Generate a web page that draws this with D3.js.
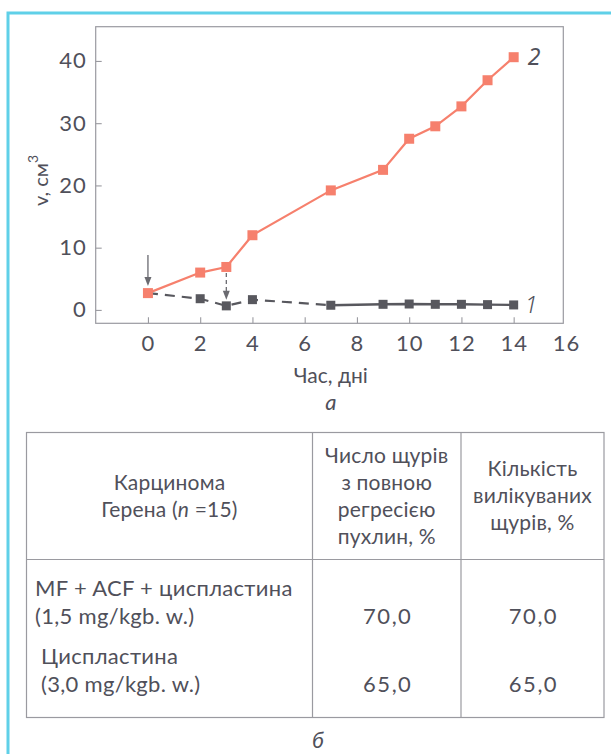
<!DOCTYPE html>
<html>
<head>
<meta charset="utf-8">
<script src="https://cdn.jsdelivr.net/npm/d3@7"></script>
<style>
  html, body { margin: 0; padding: 0; background: #ffffff; }
  svg { display: block; }
  text { font-family: Lato, "Open Sans", sans-serif; fill: #50505a; }
</style>
</head>
<body>
<svg id="fig" width="611" height="754"></svg>
<script>
// Tumour volume over time (days) for two groups
const days = [0, 2, 3, 4, 7, 9, 10, 11, 12, 13, 14];
const volumeControl = [2.7, 6.0, 6.9, 12.0, 19.2, 22.5, 27.5, 29.5, 32.7, 36.9, 40.6];  // curve 2
const volumeTreated = [2.7, 1.8, 0.65, 1.65, 0.75, 0.9, 0.95, 0.9, 0.9, 0.85, 0.8];    // curve 1
const dashedUntilDay = 7;          // curve 1 is dashed up to this day
const treatmentDays = [0, 3];      // arrows marking drug administration

const xTicks = [0, 2, 4, 6, 8, 10, 12, 14, 16];
const yTicks = [0, 10, 20, 30, 40];
const xTitle = "Час, дні";
const panelA = "а";
const panelB = "б";

// Table
const tableHeader = [
  ["Карцинома", "Герена (n =15)"],
  ["Число щурів", "з повною", "регресією", "пухлин, %"],
  ["Кількість", "вилікуваних", "щурів, %"]
];
const tableRows = [
  { name: ["MF + ACF + циспластина", "(1,5 mg/kgb. w.)"], regression: "70,0", cured: "70,0" },
  { name: ["Циспластина", "(3,0 mg/kgb. w.)"], regression: "65,0", cured: "65,0" }
];

const svg = d3.select("#fig");

// Page frame (cyan rule along top and left)
svg.append("path")
  .attr("d", "M8,754 V13 H611")
  .attr("fill", "none")
  .attr("stroke", "#5fd0e8")
  .attr("stroke-width", 3);

// ---------- Chart ----------
const plot = { left: 95.7, right: 563.3, top: 26.7, bottom: 323.3 };
const x = d3.scaleLinear().domain([-2, 15.9]).range([plot.left, plot.right]);
const y = d3.scaleLinear().domain([-2.15, 45.5]).range([plot.bottom, plot.top]);

const axisColor = "#9a9aa0";

svg.append("rect")
  .attr("x", plot.left).attr("y", plot.top)
  .attr("width", plot.right - plot.left).attr("height", plot.bottom - plot.top)
  .attr("fill", "none").attr("stroke", axisColor).attr("stroke-width", 1.2);

const xAxis = svg.append("g")
  .attr("transform", `translate(0,${plot.bottom})`)
  .call(d3.axisBottom(x).tickValues(xTicks).tickFormat(d3.format("d"))
    .tickSizeInner(-6).tickSizeOuter(0).tickPadding(12));
const yAxis = svg.append("g")
  .attr("transform", `translate(${plot.left},0)`)
  .call(d3.axisLeft(y).tickValues(yTicks).tickFormat(d3.format("d"))
    .tickSizeInner(-6).tickSizeOuter(0).tickPadding(9));

[xAxis, yAxis].forEach(g => {
  g.select(".domain").remove();
  g.selectAll(".tick line").attr("stroke", axisColor).attr("stroke-width", 1.1);
  g.selectAll(".tick text")
    .style("font-family", "Lato, sans-serif")
    .style("font-size", "22px")
    .style("letter-spacing", "1px")
    .attr("fill", "#50505a");
});
// the last tick sits on the frame edge: keep only its label
xAxis.selectAll(".tick").filter(d => d === 16).select("line").remove();

// Axis titles
svg.append("text")
  .attr("x", x(7)).attr("y", 383)
  .attr("text-anchor", "middle")
  .style("font-size", "21px")
  .text(xTitle);

svg.append("text")
  .attr("x", x(7)).attr("y", 410)
  .attr("text-anchor", "middle")
  .style("font-size", "22px").style("font-style", "italic")
  .text(panelA);

const yTitle = svg.append("text")
  .attr("transform", `translate(48,206) rotate(-90)`)
  .attr("text-anchor", "start")
  .style("font-size", "20px");
yTitle.append("tspan").text("v, см");
yTitle.append("tspan").attr("dy", -10).style("font-size", "14px").text("3");

// ---------- Series ----------
const control = days.map((d, i) => ({ d, v: volumeControl[i] }));
const treated = days.map((d, i) => ({ d, v: volumeTreated[i] }));
const line = d3.line().x(p => x(p.d)).y(p => y(p.v));

const grey = "#58585e";
const coral = "#f6806d";

svg.append("path")
  .datum(treated.filter(p => p.d <= dashedUntilDay))
  .attr("d", line).attr("fill", "none")
  .attr("stroke", grey).attr("stroke-width", 2.2)
  .attr("stroke-dasharray", "10,7");
svg.append("path")
  .datum(treated.filter(p => p.d >= dashedUntilDay))
  .attr("d", line).attr("fill", "none")
  .attr("stroke", grey).attr("stroke-width", 2.4);
svg.append("g").selectAll("rect")
  .data(treated.filter(p => p.d > 0))
  .join("rect")
  .attr("x", p => x(p.d) - 4.5).attr("y", p => y(p.v) - 4.5)
  .attr("width", 9).attr("height", 9)
  .attr("fill", grey);

svg.append("path")
  .datum(control)
  .attr("d", line).attr("fill", "none")
  .attr("stroke", coral).attr("stroke-width", 2.2);
svg.append("g").selectAll("rect")
  .data(control)
  .join("rect")
  .attr("x", p => x(p.d) - 5).attr("y", p => y(p.v) - 5)
  .attr("width", 10).attr("height", 10)
  .attr("fill", coral);

// Curve numbers
svg.append("text")
  .attr("x", x(14) + 14).attr("y", y(volumeControl[volumeControl.length - 1]) + 8)
  .style("font-family", "'Noto Sans', sans-serif")
  .style("font-size", "23px").style("font-style", "italic")
  .text("2");
svg.append("text")
  .attr("x", x(14) + 11).attr("y", y(volumeTreated[volumeTreated.length - 1]) + 8)
  .style("font-family", "'Noto Sans', sans-serif")
  .style("font-size", "23px").style("font-style", "italic").style("font-weight", 300)
  .text("1");

// Treatment arrows
const arrowColor = "#6a6a70";
function arrow(xc, y0, y1, dashed) {
  svg.append("line")
    .attr("x1", xc).attr("x2", xc).attr("y1", y0).attr("y2", y1 - 6)
    .attr("stroke", arrowColor).attr("stroke-width", 1.3)
    .attr("stroke-dasharray", dashed ? "4,3" : null);
  svg.append("path")
    .attr("d", `M${xc - 3.5},${y1 - 9} L${xc + 3.5},${y1 - 9} L${xc},${y1} Z`)
    .attr("fill", arrowColor);
}
// first dose: arrow pointing at the starting volume
arrow(x(treatmentDays[0]), y(volumeControl[0]) - 38, y(volumeControl[0]) - 7, false);
// second dose: dashed arrow from curve 2 down to curve 1
const i3 = days.indexOf(treatmentDays[1]);
arrow(x(treatmentDays[1]), y(volumeControl[i3]) + 6, y(volumeTreated[i3]) - 6, true);

// ---------- Table ----------
const tbl = { left: 26.5, right: 604, top: 432.5, headBottom: 559.5, bottom: 717.5 };
const cols = [tbl.left, 312.5, 461, tbl.right];
const lineColor = "#9a9aa0";

svg.append("rect")
  .attr("x", tbl.left).attr("y", tbl.top)
  .attr("width", tbl.right - tbl.left).attr("height", tbl.bottom - tbl.top)
  .attr("fill", "none").attr("stroke", lineColor).attr("stroke-width", 1.2);
svg.append("line")
  .attr("x1", tbl.left).attr("x2", tbl.right)
  .attr("y1", tbl.headBottom).attr("y2", tbl.headBottom)
  .attr("stroke", lineColor).attr("stroke-width", 1.2);
svg.append("g").selectAll("line")
  .data(cols.slice(1, 3))
  .join("line")
  .attr("x1", d => d).attr("x2", d => d)
  .attr("y1", tbl.top).attr("y2", tbl.bottom)
  .attr("stroke", lineColor).attr("stroke-width", 1.2);

const lh = 27;
tableHeader.forEach((lines, c) => {
  const cx = (cols[c] + cols[c + 1]) / 2;
  const cy = (tbl.top + tbl.headBottom) / 2;
  const y0 = cy - (lines.length - 1) * lh / 2;
  lines.forEach((s, k) => {
    const t = svg.append("text")
      .attr("x", cx).attr("y", y0 + k * lh).attr("dy", "0.35em")
      .attr("text-anchor", "middle")
      .style("font-size", "21px").style("letter-spacing", "0.2px");
    const m = s.match(/^(.*\()n( =.*)$/);
    if (m) {
      t.append("tspan").text(m[1]);
      t.append("tspan").style("font-style", "italic").text("n");
      t.append("tspan").text(m[2]);
    } else {
      t.text(s);
    }
  });
});

const rowY = [[588, 616.5], [656, 684.5]];
const rowX = [35, 41];
tableRows.forEach((r, i) => {
  r.name.forEach((s, k) => {
    svg.append("text")
      .attr("x", rowX[i]).attr("y", rowY[i][k]).attr("dy", "0.35em")
      .style("font-size", "22px").style("letter-spacing", "0.3px")
      .text(s);
  });
  [r.regression, r.cured].forEach((v, c) => {
    svg.append("text")
      .attr("x", (cols[c + 1] + cols[c + 2]) / 2 + 1)
      .attr("y", rowY[i][1]).attr("dy", "0.35em")
      .attr("text-anchor", "middle")
      .style("font-size", "22px").style("letter-spacing", "1.5px")
      .text(v);
  });
});

svg.append("text")
  .attr("x", 318).attr("y", 740).attr("dy", "0.35em")
  .attr("text-anchor", "middle")
  .style("font-size", "22px").style("font-style", "italic")
  .text(panelB);
</script>
</body>
</html>
